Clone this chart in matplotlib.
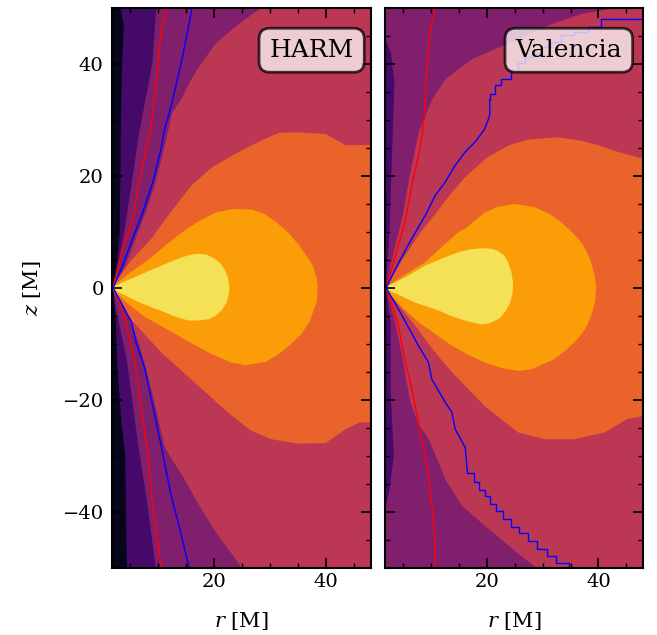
import numpy as np
import matplotlib.pyplot as plt

plt.rcParams['font.family'] = ['DejaVu Serif']
plt.rcParams['mathtext.fontset'] = 'dejavuserif'

# density level colours (inferno-like, from low to high)
c_vdark = plt.cm.inferno(0.05)
c_dark = plt.cm.inferno(0.21)
c_purple = plt.cm.inferno(0.355)
c_magenta = plt.cm.inferno(0.50)
c_orange = plt.cm.inferno(0.65)
c_amber = plt.cm.inferno(0.785)
c_yellow = plt.cm.inferno(0.92)

# ---------------- HARM ----------------
# funnel boundaries (r at given z)
harm_vdark_z = [51, 47, 40, 30, 20, 10, 4, 0, -6, -13, -24, -30, -40, -51]
harm_vdark_r = [3.0, 3.7, 3.4, 3.2, 3.1, 3.0, 2.4, 1.8, 2.3, 2.5, 3.3, 4.0, 4.1, 4.3]

harm_dark_z = [51, 40, 28, 20, 10, 3, 0, -4, -13, -28, -39, -51]
harm_dark_r = [9.6, 8.8, 6.5, 5.3, 3.8, 2.4, 1.8, 2.4, 4.3, 6.3, 8.0, 9.6]

harm_purple_z = [51, 49.9, 47, 43.9, 39.8, 36.8, 33.8, 31.4, 24.9, 18.9, 13.5, 8.8, 4, 0,
                 -5, -9.7, -15.1, -21.1, -28.2, -30.0, -33.6, -38.9, -43.7, -49.4, -51]
harm_purple_r = [28.0, 28.0, 24.0, 20.3, 17.3, 15.5, 14.0, 12.4, 10.9, 9.4, 7.6, 5.8, 4.0, 1.8,
                 4.6, 6.4, 7.9, 9.4, 11.0, 12.0, 14.3, 17.3, 20.3, 24.5, 25.0]

# torus contours (closed, from the axis over the top and back along the bottom)
harm_orange_r = [1.8, 5.0, 8.75, 11.4, 15.9, 19.5, 23.3, 26.5, 29.2, 31.6, 35.0, 39.9, 43.5, 50,
                 50, 46, 43.5, 39.9, 35.0, 30.2, 26.6, 22.4, 16.5, 10.5, 5.0, 1.8]
harm_orange_z = [0.3, 4.8, 8.8, 12.5, 18.3, 21.5, 23.7, 25.4, 26.7, 27.7, 27.8, 27.5, 25.5, 25.5,
                 -24.0, -24.0, -25.2, -27.7, -27.8, -27.0, -25.5, -22.2, -16.9, -11.5, -5.5, -0.3]

harm_amber_r = [1.8, 5.0, 8.4, 11.5, 14.3, 17.0, 20.3, 23.3, 26.8, 29.0, 31.0, 33.2, 35.2, 36.6,
                37.6, 38.3, 38.5, 38.3, 37.0, 35.5, 33.4, 31.5, 29.2, 25.5, 23.0, 19.5, 16.5,
                13.5, 10.5, 7.6, 4.5, 1.8]
harm_amber_z = [0.2, 2.8, 5.2, 7.8, 10.0, 11.8, 13.5, 14.1, 14.0, 13.2, 11.8, 9.9, 7.6, 5.6,
                4.0, 1.8, 0.0, -2.5, -6.1, -8.3, -10.3, -11.8, -13.2, -13.8, -13.3, -11.8, -10.2,
                -8.5, -6.8, -5.2, -2.8, -0.2]

harm_yellow_r = [1.8, 5.0, 8.4, 11.5, 14.3, 16.0, 17.3, 18.5, 19.8, 21.0, 21.9, 22.5, 22.7,
                 22.6, 22.2, 21.3, 20.2, 18.9, 17.0, 15.3, 13.0, 10.5, 6.6, 1.8]
harm_yellow_z = [0.2, 1.6, 3.1, 4.4, 5.5, 6.0, 6.1, 6.0, 5.4, 4.5, 3.2, 1.6, 0.0,
                 -1.2, -2.6, -4.0, -5.0, -5.6, -5.8, -5.8, -5.1, -4.1, -2.6, -0.2]

harm_red_r = [11.4, 10.5, 9.3, 8.6, 7.8, 6.6, 5.2, 3.6, 1.9, 4.0, 5.8, 6.9, 7.9, 8.1, 9.0, 10.5]
harm_red_z = [50, 45.7, 33.8, 28.4, 24.9, 18.9, 11.5, 7.0, 0.3, -5.5, -13.3, -21.1, -28.2, -30.0, -38.9, -50]

harm_blue_r = [16.0, 15.2, 14.0, 12.0, 11.1, 10.5, 9.0, 7.2, 5.4, 3.6, 1.9,
               5.2, 6.0, 7.6, 9.0, 10.5, 11.1, 12.3, 14.0, 15.5]
harm_blue_z = [50, 45.7, 39.8, 31.4, 28.4, 24.9, 18.9, 13.5, 8.8, 4.0, 0.0,
               -6.1, -9.7, -14.5, -21.1, -28.2, -31.2, -37.2, -43.7, -50]

# ---------------- Valencia ----------------
val_dark_z = [51, 45, 42, 36.8, 27.9, 10, 0, -6, -18, -30, -36, -40, -51]
val_dark_r = [1.0, 1.5, 2.7, 3.3, 3.0, 2.4, 1.8, 2.6, 2.6, 3.2, 2.4, 1.5, 1.0]

val_purple_z = [51, 49.9, 49, 47.2, 45.1, 43, 41.0, 37.4, 33.8, 28, 20, 13.5, 7, 0,
                -5, -12.1, -20, -24, -27.0, -31.2, -34.2, -38.9, -41.9, -44.9, -47.9, -49.7, -51]
val_purple_r = [42.3, 42.3, 36.9, 31.5, 26.8, 22.0, 17.3, 12.5, 10.1, 7.7, 6.0, 4.9, 3.3, 1.8,
                3.2, 4.7, 6.1, 7.5, 9.5, 11.3, 12.5, 15.5, 19.0, 22.6, 26.2, 28.6, 29.0]

val_orange_r = [1.9, 5.0, 8.0, 10.7, 13.5, 16.1, 20.0, 24.0, 27.4, 32.7, 36.9, 40.0, 43.5, 48.0, 50,
                50, 45.2, 41.1, 35.7, 30.4, 25.6, 19.6, 16.7, 13.5, 10.7, 6.6, 1.9]
val_orange_z = [0.3, 5.3, 9.8, 13.2, 16.8, 19.8, 23.3, 25.5, 26.5, 26.9, 26.3, 25.5, 24.3, 23.1, 23.1,
                -22.5, -23.4, -25.8, -27.0, -27.0, -25.8, -21.1, -18.1, -14.8, -11.5, -6.1, -0.3]

val_amber_r = [1.9, 5.5, 8.9, 12.0, 14.9, 16.1, 19.6, 22.0, 25.0, 28.6, 31.2, 33.3, 35.3, 36.9,
               38.0, 38.7, 39.3, 39.6, 39.4, 38.7, 37.7, 36.3, 34.3, 32.1, 28.0, 25.6, 23.0,
               19.6, 16.6, 13.7, 10.7, 7.7, 4.5, 1.9]
val_amber_z = [0.2, 2.5, 4.6, 7.4, 10.0, 10.6, 13.5, 14.5, 15.0, 14.4, 13.2, 11.8, 9.9, 8.2,
               6.3, 4.6, 2.3, 0.0, -2.4, -5.0, -7.2, -9.1, -11.0, -12.7, -14.5, -14.8, -14.4,
               -13.3, -11.9, -10.3, -8.2, -6.1, -3.2, -0.2]

val_yellow_r = [1.9, 5.5, 8.9, 12.0, 14.9, 17.0, 19.0, 20.8, 22.0, 23.1, 23.8, 24.4, 24.7,
                24.6, 24.1, 23.3, 22.3, 20.5, 19.0, 16.7, 13.5, 11.3, 7.1, 1.9]
val_yellow_z = [0.2, 2.0, 4.0, 5.3, 6.4, 6.9, 7.1, 7.0, 6.6, 5.8, 4.6, 2.8, 0.8,
                -1.0, -2.8, -4.2, -5.4, -6.3, -6.5, -6.0, -5.0, -4.0, -2.6, -0.2]

val_red_r = [10.6, 9.8, 9.2, 8.9, 8.5, 8.0, 6.5, 5.4, 3.6, 1.9, 3.6, 4.2, 5.1, 6.5, 8.4, 9.5, 10.2, 10.6, 10.7]
val_red_z = [50, 45.7, 39.8, 32.0, 28.4, 24.9, 18.3, 12.3, 5.8, 0.0, -5.0, -7.3, -12.1, -18.0, -27.5, -33.6, -39.5, -44.3, -50]

# blue contour: smooth inner part and stair-stepped outer parts
val_blue_up_r = [1.9, 4.2, 6.5, 8.9, 10.7, 12.5, 14.3, 16.1, 17.9, 19.6, 20.5, 20.5]
val_blue_up_z = [0.0, 4.6, 8.8, 12.9, 16.5, 18.9, 21.9, 24.3, 26.1, 28.4, 30.8, 33.6]
val_blue_upstep_r = [20.5, 21.4, 22.6, 24.4, 25.6, 26.8, 28.3, 29.8, 31.5, 33.3, 35.7, 38.1, 40.5, 44.6, 48.5]
val_blue_upstep_z = [33.6, 34.7, 36.2, 37.4, 38.8, 40.1, 41.2, 41.9, 43.1, 44.0, 45.1, 45.7, 46.6, 48.0, 48.1]
val_blue_lo_r = [1.9, 4.8, 7.7, 9.5, 10.1, 12.5, 13.7, 14.3, 16.1, 16.5]
val_blue_lo_z = [0.0, -5.0, -10.3, -13.3, -16.3, -20.4, -22.2, -25.2, -28.5, -33.0]
val_blue_lostep_r = [16.5, 17.6, 18.6, 19.6, 20.5, 21.7, 22.9, 24.3, 25.7, 27.4, 29.0, 30.7, 32.4, 34.8, 34.8]
val_blue_lostep_z = [-33.0, -34.6, -36.0, -37.2, -38.5, -39.8, -41.2, -42.6, -43.8, -45.2, -46.6, -47.9, -49.1, -49.7, -51]


def style_axes(ax):
    ax.set_xlim(1.7, 48)
    ax.set_ylim(-50, 50)
    ax.set_xticks([20, 40])
    ax.set_yticks([-40, -20, 0, 20, 40])
    ax.set_xticks(np.arange(5, 48, 5), minor=True)
    ax.set_yticks(np.arange(-45, 50, 5), minor=True)
    ax.tick_params(which='both', direction='in', top=True, right=True, labelsize=14)
    ax.tick_params(which='major', length=7, width=1.2)
    ax.tick_params(which='minor', length=3.5, width=1.0)
    ax.tick_params(axis='y', pad=6)
    for s in ax.spines.values():
        s.set_linewidth(1.5)
    ax.set_xlabel(r'$r$ [M]', fontsize=15, labelpad=14)


def draw_funnel(ax, z, r, color):
    ax.fill_betweenx(z, 0, r, color=color, lw=0)


fig = plt.figure(figsize=(6.57, 6.35), dpi=100)
ax1 = fig.add_axes([0.1705, 0.1055, 0.394, 0.882])
ax2 = fig.add_axes([0.586, 0.1055, 0.3927, 0.882])

# HARM panel
ax1.set_facecolor(c_magenta)
draw_funnel(ax1, harm_purple_z, harm_purple_r, c_purple)
draw_funnel(ax1, harm_dark_z, harm_dark_r, c_dark)
draw_funnel(ax1, harm_vdark_z, harm_vdark_r, c_vdark)
ax1.fill(harm_orange_r, harm_orange_z, color=c_orange, lw=0)
ax1.fill(harm_amber_r, harm_amber_z, color=c_amber, lw=0)
ax1.fill(harm_yellow_r, harm_yellow_z, color=c_yellow, lw=0)
ax1.plot(harm_red_r, harm_red_z, color='red', lw=1)
ax1.plot(harm_blue_r, harm_blue_z, color='blue', lw=1)

# Valencia panel
ax2.set_facecolor(c_magenta)
draw_funnel(ax2, val_purple_z, val_purple_r, c_purple)
draw_funnel(ax2, val_dark_z, val_dark_r, c_dark)
ax2.fill(val_orange_r, val_orange_z, color=c_orange, lw=0)
ax2.fill(val_amber_r, val_amber_z, color=c_amber, lw=0)
ax2.fill(val_yellow_r, val_yellow_z, color=c_yellow, lw=0)
ax2.plot(val_red_r, val_red_z, color='red', lw=1)
ax2.plot(val_blue_up_r, val_blue_up_z, color='blue', lw=1)
ax2.plot(val_blue_upstep_r, val_blue_upstep_z, color='blue', lw=1, drawstyle='steps-pre')
ax2.plot(val_blue_lo_r, val_blue_lo_z, color='blue', lw=1)
ax2.plot(val_blue_lostep_r, val_blue_lostep_z, color='blue', lw=1, drawstyle='steps-post')

box = dict(boxstyle='round,pad=0.42', facecolor='white', edgecolor='black', alpha=0.75, lw=2)
for ax, name, xpos in [(ax1, 'HARM', 0.934), (ax2, 'Valencia', 0.919)]:
    style_axes(ax)
    ax.text(xpos, 0.945, name, transform=ax.transAxes, ha='right', va='top',
            fontsize=18, bbox=box, zorder=5)

ax1.set_ylabel(r'$z$ [M]', fontsize=15, labelpad=14)
ax2.tick_params(labelleft=False)

fig.savefig('out.png', dpi=100)
